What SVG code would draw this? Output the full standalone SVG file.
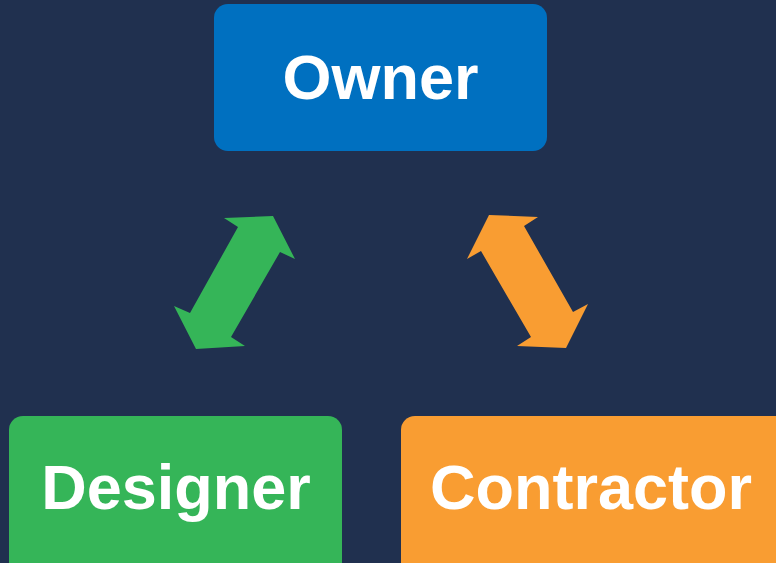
<svg xmlns="http://www.w3.org/2000/svg" width="776" height="563" viewBox="0 0 776 563">
<style>
.lbl{font-family:"Liberation Sans",Arial,sans-serif;font-weight:bold;font-size:63px;fill:#FFFFFF;text-anchor:middle}
</style>
<rect x="0" y="0" width="776" height="563" fill="#20304F"/>
<g id="owner">
<rect x="214" y="4" width="333" height="147" rx="14" fill="#0070C0"/>
<text class="lbl" x="380.5" y="99">Owner</text>
</g>
<g id="designer">
<rect x="9" y="416" width="333" height="160" rx="14" fill="#35B558"/>
<text class="lbl" x="176" y="509">Designer</text>
</g>
<g id="contractor">
<rect x="401" y="416" width="390" height="160" rx="14" fill="#F99D32"/>
<text class="lbl" x="591" y="509">Contractor</text>
</g>
<g id="connectors">
<polygon fill="#35B558" points="224,218 273,216 295,259 280,252 231,337 245,346 196,349 174,306 190,313 238,227"/>
<polygon fill="#F99D32" points="489,215 538,217 524,226 573,312 588,304 566,348 517,346 531,337 481,251 467,259"/>
</g>
</svg>
